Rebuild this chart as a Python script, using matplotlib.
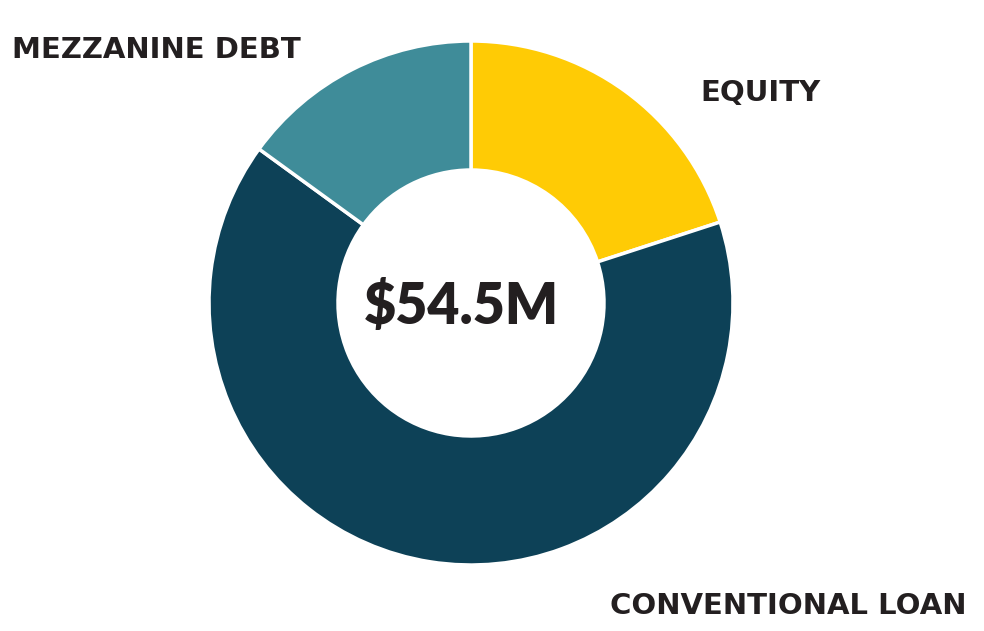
import matplotlib
matplotlib.use("Agg")
import matplotlib.pyplot as plt

# funding sources, share of $54.5M (percent)
labels = ["EQUITY", "CONVENTIONAL LOAN", "MEZZANINE DEBT"]
shares = [20, 65, 15]
colors = ["#FFCB05", "#0D4157", "#3F8C99"]
total_label = "$54.5M"

W, H = 984, 631
fig = plt.figure(figsize=(W / 100, H / 100), dpi=100)
ax = fig.add_axes([0, 0, 1, 1])

# work in pixel-like units, y up
cx, cy = 471, H - 303
r_out, r_in = 262, 133

ax.pie(shares, colors=colors, startangle=90, counterclock=False,
       center=(cx, cy), radius=r_out,
       wedgeprops=dict(width=r_out - r_in, edgecolor="white", linewidth=2.5))

ax.set_xlim(0, W)
ax.set_ylim(0, H)
ax.set_aspect("equal")
ax.axis("off")

lab = dict(family="DejaVu Sans", weight="bold", color="#231F20",
           fontsize=21, ha="left", va="baseline")
ax.text(700, H - 101, labels[0], **lab)
ax.text(610, H - 614, labels[1], **lab)
ax.text(12, H - 58, labels[2], **lab)
ax.text(461, H - 306, total_label, family=["Lato", "DejaVu Sans"], weight="heavy",
        color="#231F20", fontsize=40, ha="center", va="center")

fig.savefig("out.png", dpi=100)
